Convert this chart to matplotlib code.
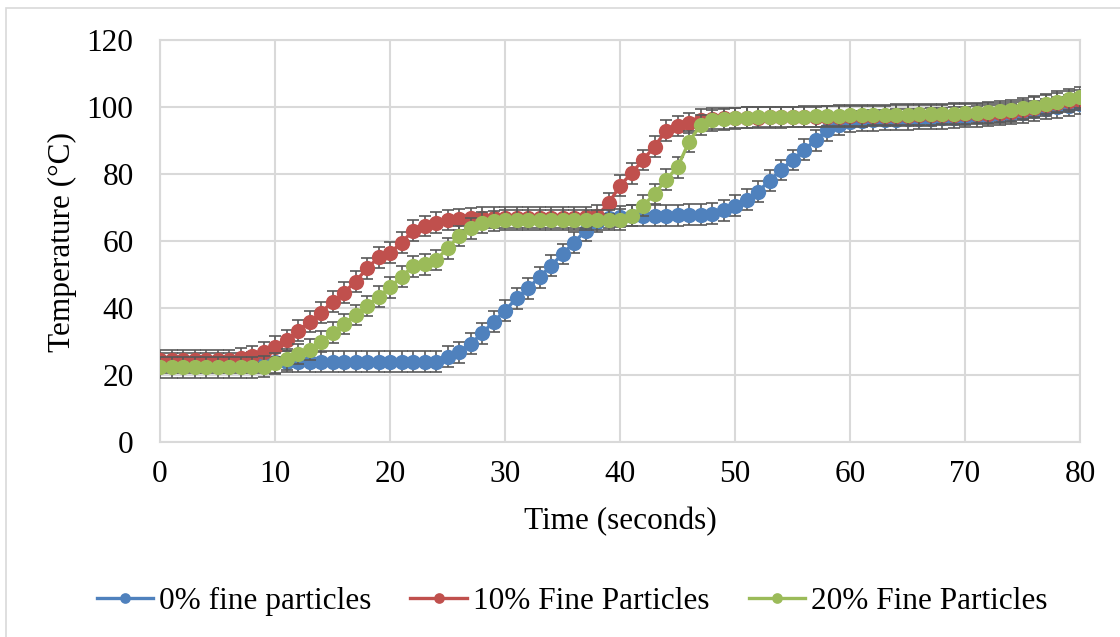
import matplotlib
matplotlib.use("Agg")
import matplotlib.pyplot as plt
from matplotlib.patches import Rectangle
import numpy as np

plt.rcParams['font.family'] = ['Liberation Serif', 'DejaVu Serif']

# time axis, one reading per second
time_s = list(range(0, 81))

temp_0pct = [23.6, 23.6, 23.6, 23.6, 23.6, 23.6, 23.6, 23.6, 23.7, 23.7,
             23.8, 24.0, 24.0, 24.0, 24.0, 24.0, 24.0, 24.0, 24.0, 24.0,
             24.0, 24.0, 24.0, 24.0, 24.0, 25.5, 26.8, 29.3, 32.4, 35.9,
             39.2, 42.9, 45.9, 49.2, 52.6, 56.1, 59.5, 63.1, 65.8, 67.0,
             67.3, 67.5, 67.5, 67.6, 67.6, 67.7, 67.8, 67.9, 68.2, 69.2,
             70.5, 72.3, 74.7, 78.0, 81.2, 84.2, 87.2, 90.1, 93.1, 94.6,
             95.5, 95.8, 96.0, 96.1, 96.2, 96.3, 96.4, 96.5, 96.6, 96.8,
             97.0, 97.2, 97.4, 97.6, 97.9, 98.3, 98.8, 99.4, 99.9, 100.4,
             101.0]

temp_10pct = [24.5, 24.5, 24.5, 24.5, 24.5, 24.5, 24.5, 25.0, 25.7, 26.8,
              28.4, 30.4, 33.2, 35.9, 38.6, 41.9, 44.6, 47.9, 51.8, 55.1,
              56.5, 59.5, 63.1, 64.5, 65.5, 66.3, 66.5, 66.8, 67.0, 67.0,
              67.0, 67.0, 67.0, 67.0, 67.0, 67.0, 67.0, 67.1, 67.5, 71.2,
              76.5, 80.2, 84.2, 88.2, 92.9, 94.3, 95.2, 96.2, 96.5, 96.6,
              96.7, 96.8, 96.8, 96.9, 96.9, 97.0, 97.0, 97.0, 97.1, 97.1,
              97.2, 97.2, 97.3, 97.3, 97.4, 97.4, 97.5, 97.5, 97.6, 97.7,
              97.8, 97.9, 98.0, 98.2, 98.5, 99.1, 99.8, 100.5, 101.2, 101.7,
              102.1]

temp_20pct = [22.3, 22.3, 22.3, 22.3, 22.3, 22.3, 22.3, 22.3, 22.3, 22.5,
              23.5, 24.7, 26.3, 27.5, 29.9, 32.6, 35.2, 37.9, 40.6, 43.4,
              46.2, 49.3, 52.5, 53.1, 54.3, 57.8, 61.5, 63.8, 65.5, 66.0,
              66.3, 66.3, 66.3, 66.3, 66.3, 66.3, 66.3, 66.3, 66.3, 66.3,
              66.4, 67.5, 70.5, 74.0, 78.3, 82.0, 89.6, 94.6, 96.0, 96.3,
              96.6, 96.8, 97.0, 97.0, 97.0, 97.0, 97.1, 97.2, 97.3, 97.4,
              97.5, 97.5, 97.6, 97.6, 97.7, 97.7, 97.8, 97.8, 97.9, 98.0,
              98.1, 98.2, 98.4, 98.7, 99.0, 99.6, 100.1, 100.9, 101.6, 102.3,
              102.9]

temp_err = 3.1

series_names = ["0% fine particles", "10% Fine Particles", "20% Fine Particles"]
series_colors = ["#4F81BD", "#C0504D", "#9BBB59"]

fs = 22.5

fig = plt.figure(figsize=(11.2, 6.37), dpi=100)
fig.patches.append(Rectangle((6 / 1120, -0.2), 2, 1.2 - 8 / 637,
                             transform=fig.transFigure, fill=False,
                             edgecolor="#D9D9D9", lw=1.2))
ax = fig.add_axes([160 / 1120, 1 - 442 / 637, 920 / 1120, 402 / 637])

all_series = [temp_0pct, temp_10pct, temp_20pct]
for i, (ys, name, col) in enumerate(zip(all_series, series_names, series_colors)):
    ax.errorbar(time_s, ys, yerr=temp_err, fmt="none", ecolor="#595959",
                elinewidth=1.2, capsize=4.5, capthick=1.2, zorder=3 + 2 * i)
    ax.plot(time_s, ys, "-o", color=col, lw=2.4, markersize=11,
            markeredgewidth=0, label=name, zorder=4 + 2 * i)

ax.set_xlim(0, 80)
ax.set_ylim(0, 120)
ax.set_xticks(np.arange(0, 81, 10))
ax.set_yticks(np.arange(0, 121, 20))
ax.grid(True, color="#D9D9D9", lw=1.5, zorder=0)
ax.set_axisbelow(True)
for sp in ax.spines.values():
    sp.set_color("#D9D9D9")
    sp.set_linewidth(1.5)
ax.tick_params(axis="both", length=0, labelsize=fs)
ax.tick_params(axis="x", pad=13)
ax.tick_params(axis="y", pad=19)

fig.text(62 / 1120, 1 - 242 / 637, "Temperature (°C)", rotation=90,
         ha="center", va="center", fontsize=fs)
fig.text(0.5 * (160 + 1080) / 1120, 1 - 522 / 637, "Time (seconds)",
         ha="center", va="center", fontsize=fs)

fig.legend(loc="center", bbox_to_anchor=(0.5 + 12 / 1120, 1 - 601 / 637), ncol=3,
           frameon=False, fontsize=fs, handlelength=1.8,
           handletextpad=0.2, columnspacing=1.25, markerscale=0.7)

fig.savefig("out.png", dpi=100)
